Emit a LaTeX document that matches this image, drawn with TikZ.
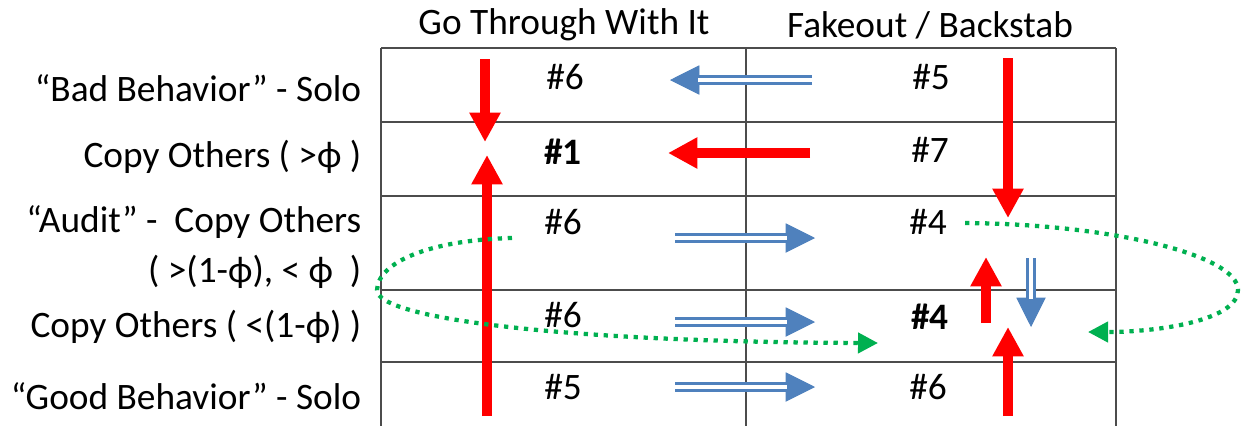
\documentclass[tikz,border=0pt]{standalone}
\usepackage{fontspec}
\setmainfont{Carlito}
\usetikzlibrary{arrows.meta}
\definecolor{redA}{RGB}{255,0,0}
\definecolor{blueA}{RGB}{79,129,189}
\definecolor{greenA}{RGB}{0,176,80}

\begin{document}
\begin{tikzpicture}[x=0.75pt,y=-0.75pt,
	grid/.style={draw=black!70, line width=1pt},
	cell/.style={font=\fontsize{28}{32}\selectfont},
	lab/.style={font=\fontsize{28}{37.5}\selectfont, anchor=east, align=right},
	redarr/.style={draw=redA, line width=7.5pt, -{Triangle[length=22pt,width=22pt]}},
	blueshaft/.style={draw=blueA, line width=2.4pt, double=white, double distance=2.4pt, shorten >=21pt},
	bluehead/.style={draw=blueA, line width=0.5pt, -{Triangle[length=22pt,width=22pt]}},
	greenarr/.style={draw=greenA, line width=3.2pt, dash pattern=on 3.2pt off 4.3pt, -{Triangle[length=15pt,width=15pt]}}
]
	\useasboundingbox (0,0) rectangle (1241,426);
	
	% table
	\foreach \y in {48,122,196,290,362}
		\draw[grid] (381,\y) -- (1116,\y);
	\foreach \x in {381,746,1116}
		\draw[grid] (\x,48) -- (\x,426);
	
	% headers and row labels
	\node[cell] (h1) at (564,25) {Go Through With It};
	\node[cell] (h2) at (930,25) {Fakeout / Backstab};
	
	\node[lab] (r1) at (366,88) {“Bad Behavior” - Solo};
	\node[lab] (r2) at (366,157) {Copy Others ( >ϕ )};
	\node[lab] (r3) at (366,247) {“Audit” -\ \ Copy Others\\( >(1-ϕ), < ϕ\ \ )};
	\node[lab] (r4) at (366,327) {Copy Others ( <(1-ϕ) )};
	\node[lab] (r5) at (366,396) {“Good Behavior” - Solo};
	
	% cells
	\node[cell] (c11) at (565,77) {\#6};
	\node[cell] (c12) at (931,77) {\#5};
	\node[cell] (c21) at (563,152) {\textbf{\#1}};
	\node[cell] (c22) at (930,150) {\#7};
	\node[cell] (c31) at (563,222) {\#6};
	\node[cell] (c32) at (928,222) {\#4};
	\node[cell] (c41) at (563,315) {\#6};
	\node[cell] (c42) at (930,317) {\textbf{\#4}};
	\node[cell] (c51) at (563,387) {\#5};
	\node[cell] (c52) at (928,387) {\#6};
	
	% arrow ends
	\coordinate (rs-1) at (485,59);   \coordinate (re-1) at (485,142);
	\coordinate (rs-2) at (487,416);  \coordinate (re-2) at (487,155);
	\coordinate (rs-3) at (1008,58);  \coordinate (re-3) at (1008,218);
	\coordinate (rs-4) at (986,323);  \coordinate (re-4) at (986,257);
	\coordinate (rs-5) at (1008,416); \coordinate (re-5) at (1008,327);
	\coordinate (rs-6) at (810,153);  \coordinate (re-6) at (668,153);
	
	\coordinate (bs-1) at (812,80);   \coordinate (be-1) at (670,80);
	\coordinate (bs-2) at (1031,258); \coordinate (be-2) at (1031,327);
	\coordinate (bs-3) at (675,238);  \coordinate (be-3) at (815,238);
	\coordinate (bs-4) at (675,322);  \coordinate (be-4) at (815,322);
	\coordinate (bs-5) at (675,387);  \coordinate (be-5) at (815,387);
	
	\coordinate (gs-1) at (512,238);  \coordinate (ge-1) at (878,343);
	\coordinate (gs-2) at (965,223);  \coordinate (ge-2) at (1088,332);
	
	% red moves
	\foreach \i in {1,...,6}
		\draw[redarr] (rs-\i) -- (re-\i);
	
	% blue moves
	\foreach \i in {1,...,5} {
		\draw[bluehead] (bs-\i) -- (be-\i);
		\draw[blueshaft] (bs-\i) -- (be-\i);
	}
	
	% green loops
	\draw[greenarr] (gs-1) .. controls (430,240) and (378,262) .. (377,290)
		.. controls (376,318) and (560,342) .. (ge-1);
	\draw[greenarr] (gs-2) .. controls (1110,224) and (1238,255) .. (1238,290)
		.. controls (1238,320) and (1160,332) .. (ge-2);
\end{tikzpicture}
\end{document}
